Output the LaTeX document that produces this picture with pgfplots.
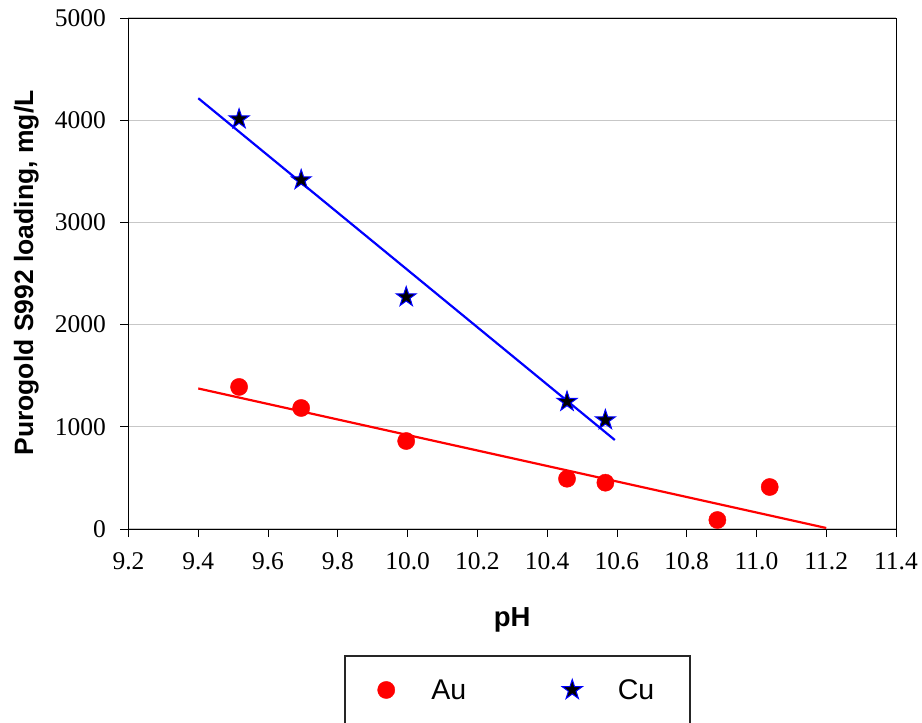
\documentclass[border=0pt]{standalone}
\usepackage{fontspec}
\setmainfont{Liberation Serif}
\newfontfamily\arial{Liberation Sans}
\usepackage{pgfplots}
\pgfplotsset{compat=1.18}
\pgfdeclareplotmark{fstar}{%
  \pgfpathmoveto{\pgfpointpolar{90}{\pgfplotmarksize}}%
  \pgfpathlineto{\pgfpointpolar{126}{0.382\pgfplotmarksize}}%
  \pgfpathlineto{\pgfpointpolar{162}{\pgfplotmarksize}}%
  \pgfpathlineto{\pgfpointpolar{198}{0.382\pgfplotmarksize}}%
  \pgfpathlineto{\pgfpointpolar{234}{\pgfplotmarksize}}%
  \pgfpathlineto{\pgfpointpolar{270}{0.382\pgfplotmarksize}}%
  \pgfpathlineto{\pgfpointpolar{306}{\pgfplotmarksize}}%
  \pgfpathlineto{\pgfpointpolar{342}{0.382\pgfplotmarksize}}%
  \pgfpathlineto{\pgfpointpolar{18}{\pgfplotmarksize}}%
  \pgfpathlineto{\pgfpointpolar{54}{0.382\pgfplotmarksize}}%
  \pgfpathclose
  \pgfusepathqfillstroke
}
\begin{document}
\begin{tikzpicture}
\path[use as bounding box] (0pt,0pt) rectangle (922pt,-723pt);
\begin{axis}[
  at={(128.5pt,-529pt)}, anchor=south west, scale only axis,
  width=767.5pt, height=511pt,
  xmin=9.2, xmax=11.4, ymin=0, ymax=5000,
  xtick={9.2,9.4,9.6,9.8,10.0,10.2,10.4,10.6,10.8,11.0,11.2,11.4},
  ytick={0,1000,2000,3000,4000,5000},
  scaled ticks=false,
  /pgf/number format/assume math mode=true,
  tick label style={font=\fontsize{25.5}{30}\selectfont},
  xticklabel style={font=\fontsize{25.5}{30}\selectfont, /pgf/number format/fixed, /pgf/number format/fixed zerofill, /pgf/number format/precision=1, yshift=-12pt},
  yticklabel style={font=\fontsize{25.5}{30}\selectfont, /pgf/number format/fixed, /pgf/number format/1000 sep={}, xshift=-11pt},
  tick align=outside, xtick pos=bottom, ytick pos=left,
  major tick length=8pt,
  tick style={black, line width=0.8pt},
  ymajorgrids, grid style={black!22, line width=1.2pt},
  axis line style={black, line width=1pt},
  xlabel={\arial\bfseries\fontsize{27.5}{32}\selectfont pH},
  ylabel={\arial\bfseries\fontsize{26.5}{30}\selectfont Purogold S992 loading, mg/L},
  xlabel style={at={(axis description cs:0.5,-0.178)}, anchor=center},
  ylabel style={at={(axis description cs:-0.133,0.501)}, anchor=center, rotate=0},
  legend columns=2,
  legend style={draw=none, fill=none, at={(axis description cs:0.3204,-0.315)}, anchor=west,
    font=\arial\fontsize{28.5}{32}\selectfont,
    /tikz/every even column/.append style={column sep=94pt}},
  legend image code/.code={\path (0pt,0pt) (43pt,0pt); \draw[mark repeat=2, mark phase=2] plot coordinates {(0pt,0pt)(0pt,0pt)(0pt,0pt)};},
]
\addplot[red, line width=2.2pt, forget plot] coordinates {(9.4,1375) (11.2,10)};
\addplot[blue, line width=2.2pt, forget plot] coordinates {(9.4,4215) (10.594,871)};
\addplot[only marks, mark=*, mark size=8.6pt, draw=red, fill=red] coordinates {
 (9.517,1390) (9.695,1184) (9.996,861) (10.457,492) (10.567,453) (10.888,88) (11.038,411)};
\addlegendentry{Au}
\addplot[only marks, mark=fstar, mark size=10.5pt, draw=blue, fill=black, line width=1pt] coordinates {
 (9.517,4010) (9.695,3415) (9.996,2270) (10.457,1246) (10.567,1066)};
\addlegendentry{Cu}
\end{axis}
\draw[line width=1.2pt, black!85] (345pt,-740pt) -- (345pt,-656pt) -- (690pt,-656pt) -- (690pt,-740pt);
\end{tikzpicture}
\end{document}
